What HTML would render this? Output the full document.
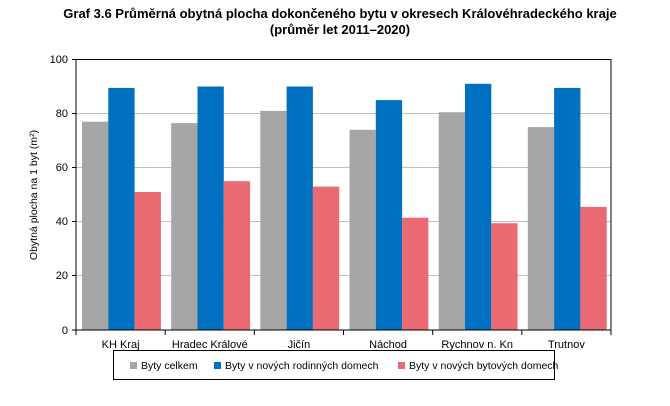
<!DOCTYPE html>
<html><head><meta charset="utf-8"><style>
body{margin:0;background:#fff;width:670px;height:401px;overflow:hidden;font-family:"Liberation Sans",Arial,sans-serif}
</style></head><body>
<svg width="670" height="401" xmlns="http://www.w3.org/2000/svg" font-family="Liberation Sans, Arial, sans-serif">
<text x="340" y="18" text-anchor="middle" font-size="13" font-weight="bold">Graf 3.6 Průměrná obytná plocha dokončeného bytu v okresech Královéhradeckého kraje</text>
<text x="340" y="34" text-anchor="middle" font-size="13" font-weight="bold">(průměr let 2011–2020)</text>
<g stroke="#c0c0c0" stroke-width="1">
<line x1="76" x2="611" y1="113.5" y2="113.5"/><line x1="76" x2="611" y1="167.5" y2="167.5"/>
<line x1="76" x2="611" y1="221.5" y2="221.5"/><line x1="76" x2="611" y1="275.5" y2="275.5"/>
</g>
<g>
<rect x="82" y="121.7" width="26.3" height="208.3" fill="#a6a6a6"/>
<rect x="108.3" y="87.9" width="26.3" height="242.1" fill="#0070c0"/>
<rect x="134.6" y="192" width="26.3" height="138" fill="#e96a72"/>
<rect x="171.2" y="123.1" width="26.3" height="206.9" fill="#a6a6a6"/>
<rect x="197.5" y="86.5" width="26.3" height="243.5" fill="#0070c0"/>
<rect x="223.8" y="181.2" width="26.3" height="148.8" fill="#e96a72"/>
<rect x="260.3" y="110.9" width="26.3" height="219.1" fill="#a6a6a6"/>
<rect x="286.6" y="86.5" width="26.3" height="243.5" fill="#0070c0"/>
<rect x="312.9" y="186.6" width="26.3" height="143.4" fill="#e96a72"/>
<rect x="349.5" y="129.8" width="26.3" height="200.2" fill="#a6a6a6"/>
<rect x="375.8" y="100.1" width="26.3" height="229.9" fill="#0070c0"/>
<rect x="402.1" y="217.7" width="26.3" height="112.3" fill="#e96a72"/>
<rect x="438.7" y="112.2" width="26.3" height="217.8" fill="#a6a6a6"/>
<rect x="465" y="83.8" width="26.3" height="246.2" fill="#0070c0"/>
<rect x="491.3" y="223.2" width="26.3" height="106.8" fill="#e96a72"/>
<rect x="527.8" y="127.1" width="26.3" height="202.9" fill="#a6a6a6"/>
<rect x="554.1" y="87.9" width="26.3" height="242.1" fill="#0070c0"/>
<rect x="580.4" y="206.9" width="26.3" height="123.1" fill="#e96a72"/>
</g>
<rect x="76" y="59.5" width="535" height="270.5" fill="none" stroke="#000"/>
<g font-size="11" text-anchor="end">
<text x="68" y="63">100</text><text x="68" y="117">80</text><text x="68" y="171">60</text>
<text x="68" y="225">40</text><text x="68" y="279">20</text><text x="68" y="334">0</text>
</g>
<g stroke="#000"><line x1="72" x2="76" y1="59.5" y2="59.5"/><line x1="72" x2="76" y1="113.5" y2="113.5"/><line x1="72" x2="76" y1="167.5" y2="167.5"/><line x1="72" x2="76" y1="221.5" y2="221.5"/><line x1="72" x2="76" y1="275.5" y2="275.5"/><line x1="72" x2="76" y1="330" y2="330"/>
<line x1="76" x2="76" y1="330" y2="335"/><line x1="165.2" x2="165.2" y1="330" y2="335"/><line x1="254.3" x2="254.3" y1="330" y2="335"/><line x1="343.5" x2="343.5" y1="330" y2="335"/><line x1="432.7" x2="432.7" y1="330" y2="335"/><line x1="521.8" x2="521.8" y1="330" y2="335"/><line x1="611" x2="611" y1="330" y2="335"/></g>
<g font-size="11" text-anchor="middle">
<text x="120.6" y="348">KH  Kraj</text><text x="209.8" y="348">Hradec Králové</text><text x="298.9" y="348">Jičín</text>
<text x="388.1" y="348">Náchod</text><text x="477.2" y="348">Rychnov n. Kn</text><text x="566.4" y="348">Trutnov</text>
</g>
<text transform="translate(37,195) rotate(-90)" text-anchor="middle" font-size="10.5">Obytná plocha na 1 byt (m²)</text>
<rect x="113.5" y="350.5" width="441" height="29" fill="none" stroke="#000"/>
<rect x="130" y="362" width="7" height="7" fill="#a6a6a6"/><text x="141" y="369" font-size="10.5">Byty celkem</text>
<rect x="214" y="362" width="7" height="7" fill="#0070c0"/><text x="225" y="369" font-size="10.5">Byty v nových rodinných domech</text>
<rect x="398" y="362" width="7" height="7" fill="#e96a72"/><text x="409" y="369" font-size="10.5">Byty v nových bytových domech</text>
</svg>
</body></html>
